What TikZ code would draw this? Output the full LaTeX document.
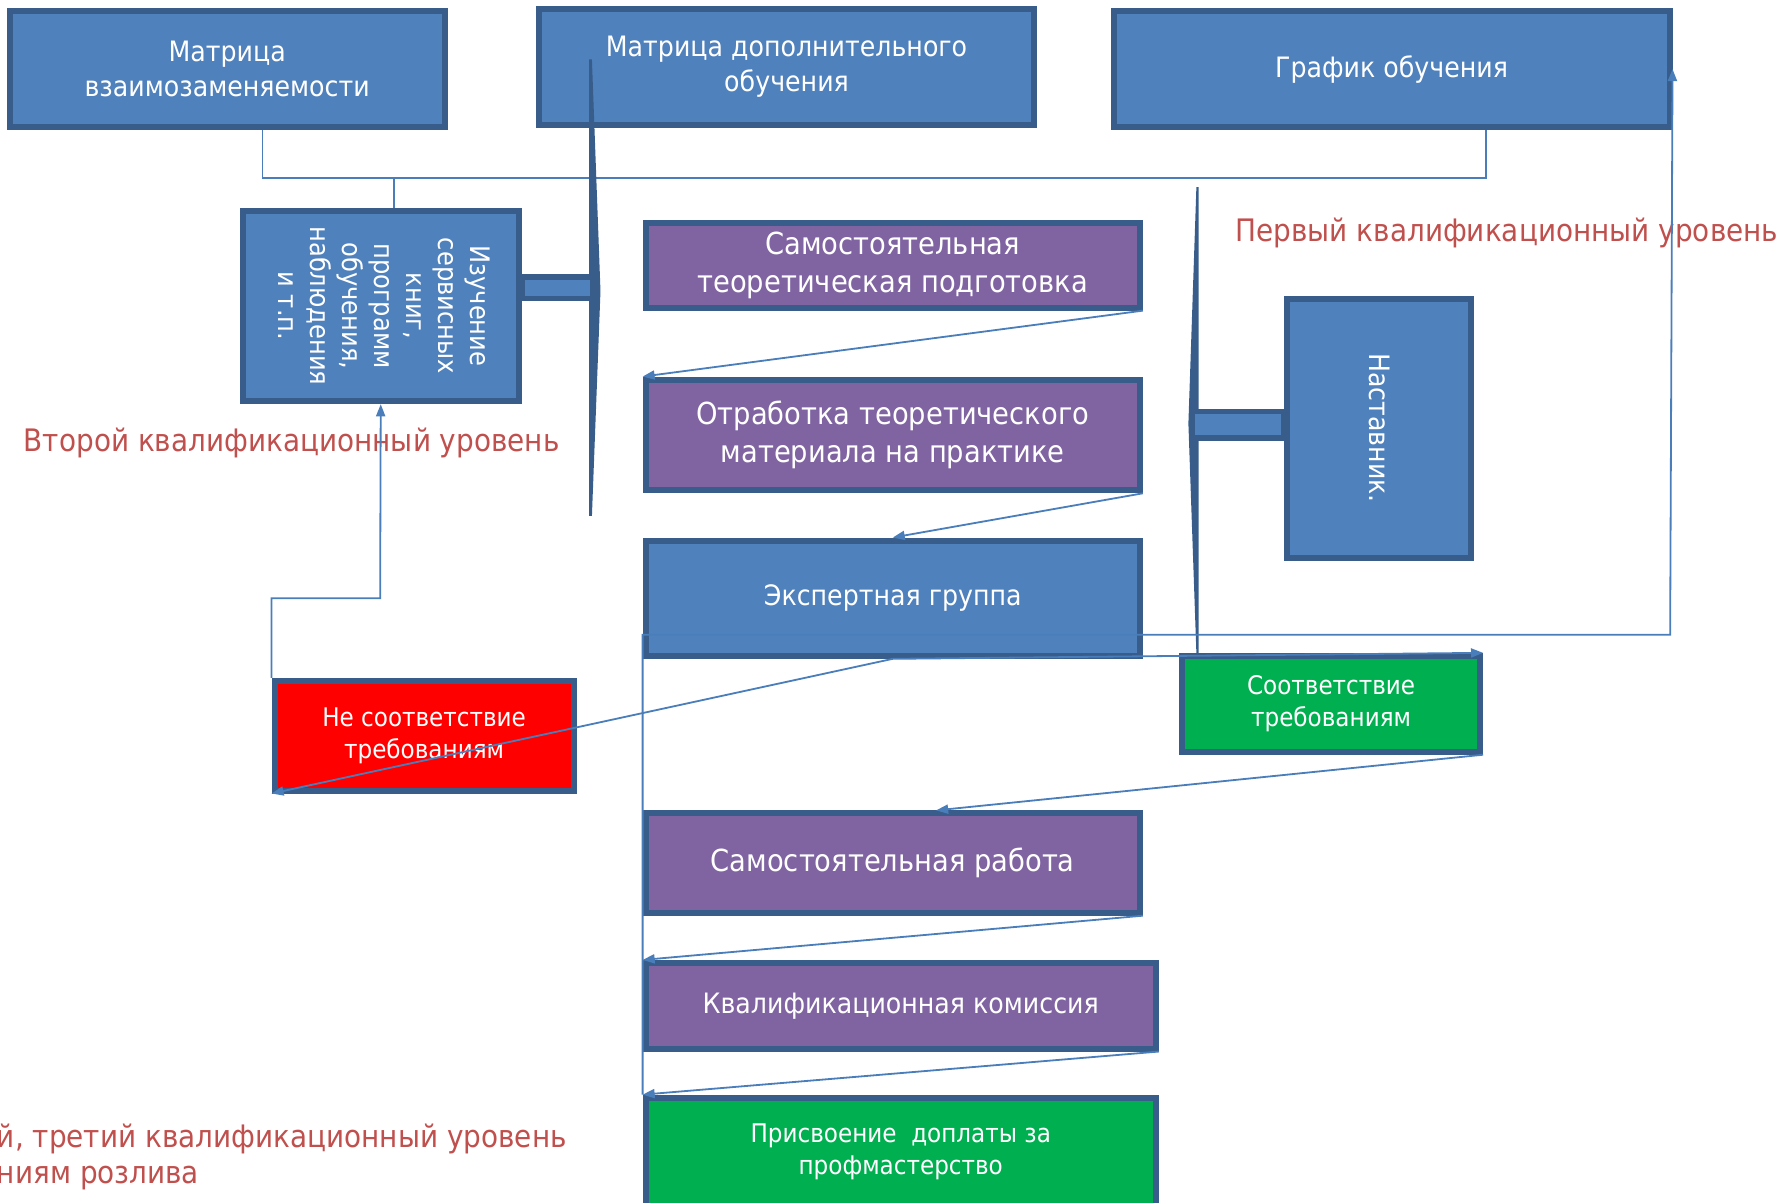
\documentclass[tikz,border=0pt]{standalone}
\usepackage{fontspec}
\setmainfont{DejaVu Sans}[FakeStretch=0.9]
\usepackage{graphicx}
\usetikzlibrary{arrows.meta}

\definecolor{boxblue}{HTML}{4F81BD}
\definecolor{boxline}{HTML}{385D8A}
\definecolor{boxviolet}{HTML}{8064A2}
\definecolor{boxgreen}{HTML}{00B050}
\definecolor{boxred}{HTML}{FF0000}
\definecolor{linkblue}{HTML}{4A7EBB}
\definecolor{leveltext}{HTML}{C0504D}

\newcommand\txtbig{\fontsize{15.15}{18.7}\selectfont}
\newcommand\txtmid{\fontsize{14}{17.6}\selectfont}
\newcommand\txtsmall{\fontsize{12.8}{15.9}\selectfont}
\newcommand\txtrot{\fontsize{13.4}{15.9}\selectfont}
\newcommand\txtlevel{\fontsize{15.45}{19.2}\selectfont}

\begin{document}
\begin{tikzpicture}
    [x=0.02cm, y=-0.02cm,
    box/.style={draw=boxline, line width=3pt, fill=boxblue, text=white, align=center, inner sep=0pt},
    stage/.style={box, fill=boxviolet},
    passbox/.style={box, fill=boxgreen},
    failbox/.style={box, fill=boxred},
    level/.style={text=leveltext, inner sep=0pt, font=\txtlevel},
    link/.style={draw=linkblue, line width=0.9pt},
    arr/.style={link, -{Triangle[length=6pt, width=4.5pt]}},
    brace/.style={fill=boxline},
    bar/.style={draw=boxline, fill=boxblue, line width=2.8pt}]

    \useasboundingbox (0,0) rectangle (1568,1053);

    % top row
    \node[box, minimum width=7.62cm, minimum height=2.04cm, font=\txtmid] (mvz) at (199,60.5) {Матрица\\взаимозаменяемости};
    \node[box, minimum width=8.66cm, minimum height=2.04cm, font=\txtmid] (mdo) at (689,58.5) {Матрица дополнительного\\обучения};
    \node[box, minimum width=9.74cm, minimum height=2.04cm, font=\txtmid] (grafik) at (1219,60.5) {График обучения};

    % second level
    \node[box, minimum width=4.84cm, minimum height=3.34cm] (izuch) at (333.5,268)
        {\rotatebox{-90}{\txtrot\begin{tabular}{@{}c@{}}Изучение\\сервисных\\книг,\\программ\\обучения,\\наблюдения\\и т.п.\end{tabular}}};
    \node[level] (lvl2) at (255.5,388) {Второй квалификационный уровень};

    % first level
    \node[stage, minimum width=8.66cm, minimum height=1.48cm, font=\txtbig] (samteor) at (782,232.5) {Самостоятельная\\теоретическая подготовка};
    \node[stage, minimum width=8.66cm, minimum height=1.94cm, font=\txtbig] (otrab) at (782,381) {Отработка теоретического\\материала на практике};
    \node[box, minimum width=8.66cm, minimum height=2.02cm, font=\txtmid] (expert) at (782,524) {Экспертная группа};
    \node[box, minimum width=3.22cm, minimum height=4.54cm] (nast) at (1208,375) {\rotatebox{-90}{\txtmid Наставник.}};
    \node[level] (lvl1) at (1320,204) {Первый квалификационный уровень};

    % results
    \node[failbox, minimum width=5.24cm, minimum height=1.92cm, font=\txtsmall] (nesoot) at (371.5,644.5) {Не соответствие\\требованиям};
    \node[passbox, minimum width=5.22cm, minimum height=1.68cm, font=\txtsmall] (soot) at (1166,616.5) {Соответствие\\требованиям};

    % third level
    \node[stage, minimum width=8.66cm, minimum height=1.74cm, font=\txtbig] (samrab) at (782,756) {Самостоятельная работа};
    \node[stage, minimum width=8.94cm, minimum height=1.5cm, font=\txtmid] (komis) at (789,881) {Квалификационная комиссия};
    \node[passbox, minimum width=8.94cm, minimum height=1.9cm, font=\txtsmall] (prisv) at (789,1009) {Присвоение~~доплаты за\\профмастерство};
    \node[level, anchor=west] (lvl3a) at (-3,998) {й, третий квалификационный уровень};
    \node[level, anchor=west] (lvl3b) at (-3,1032) {ниям розлива};

    % bus from the top row
    \coordinate (busL) at (230,156);
    \coordinate (busR) at (1302,156);
    \coordinate (busT) at (345,156);
    \draw[link] (mvz.south -| busL) -- (busL) -- (busR) -- (grafik.south -| busR);
    \draw[link] (busT) -- (izuch.north -| busT);

    % braces and bars
    \fill[brace] (516,52) -- (518.5,52) -- (526,255) -- (518.5,452) -- (516,452) -- cycle;
    \draw[bar] (izuch.east |- 0,242.5) rectangle (519,261.5);
    \fill[brace] (1050,164) -- (1048,164) -- (1041,371) -- (1048,572) -- (1050,572) -- cycle;
    \draw[bar] (1044,360.5) rectangle (nast.west |- 0,383.5);

    % flow
    \draw[arr] (samteor.south east) -- (otrab.north west);
    \draw[arr] (otrab.south east) -- (expert.north);
    \draw[arr] (expert.south) -- (nesoot.south west);
    \draw[arr] (expert.south) -- (soot.north east);
    \draw[arr] (soot.south east) -- ([xshift=0.76cm]samrab.north);
    \draw[arr] (samrab.south east) -- (komis.north west);
    \draw[arr] (komis.south east) -- (prisv.north west);

    % way back
    \coordinate (retour) at (333,524);
    \draw[arr] (nesoot.north west) |- (retour) -- (izuch.south);
    \coordinate (loopR) at (1463,556);
    \draw[arr] (prisv.north west) |- (loopR) -- (grafik.east);

\end{tikzpicture}
\end{document}
